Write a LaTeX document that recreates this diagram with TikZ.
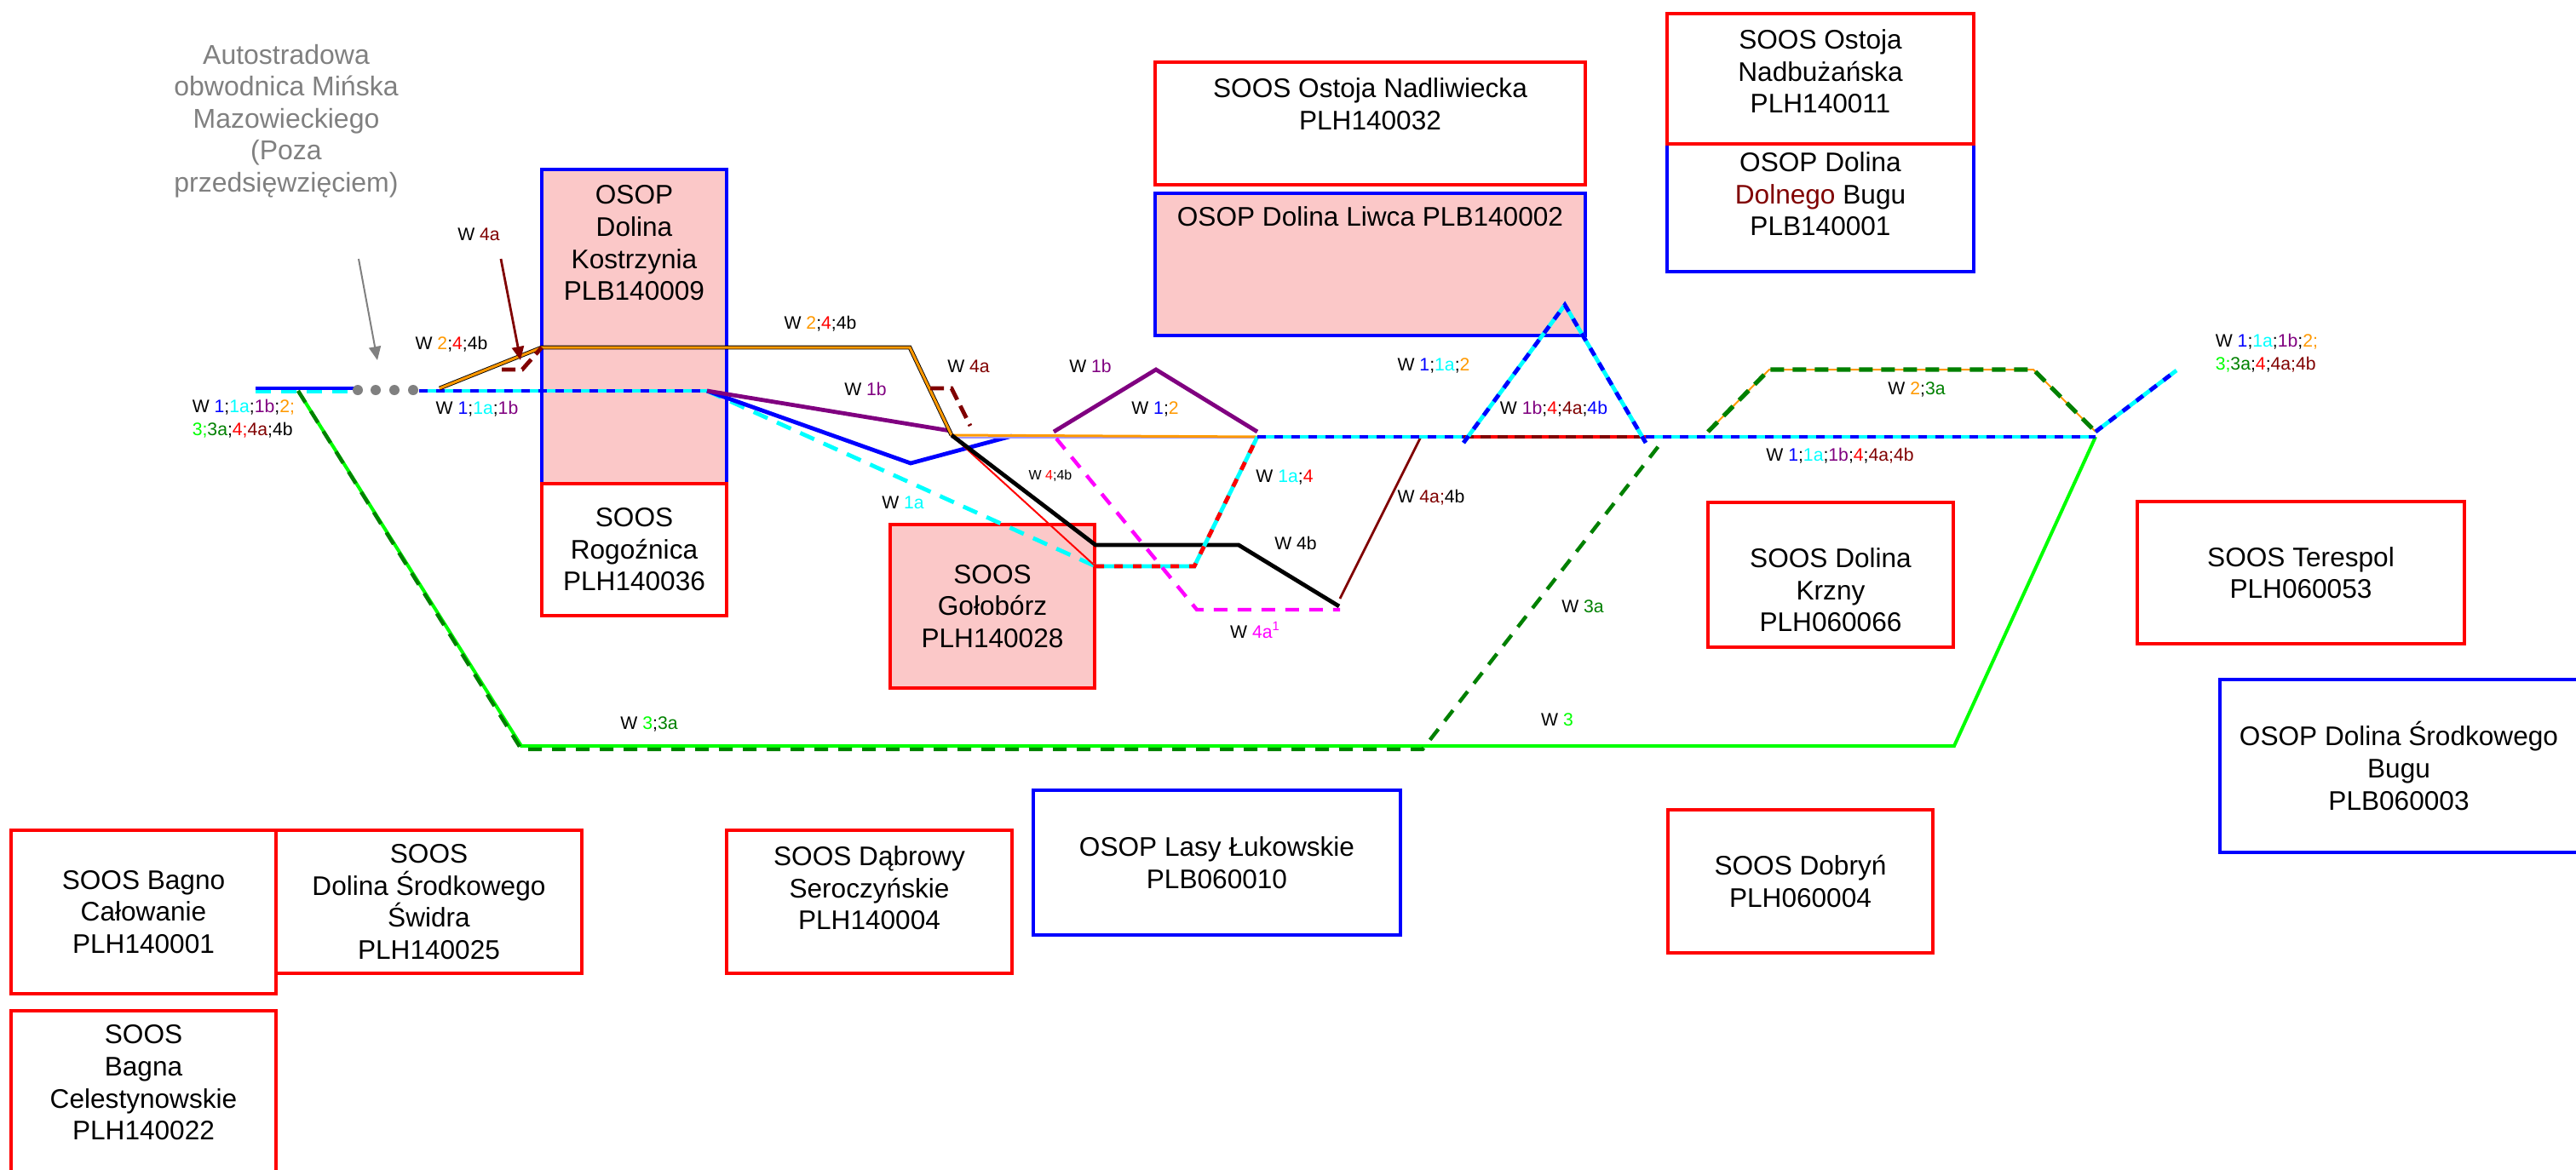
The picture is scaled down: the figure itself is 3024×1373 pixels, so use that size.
\documentclass[tikz,border=0pt]{standalone}
\usepackage{fontspec}
\setmainfont{Liberation Sans}
\usetikzlibrary{positioning,arrows.meta}
\definecolor{wblue}{RGB}{0,0,255}
\definecolor{wcyan}{RGB}{0,255,255}
\definecolor{wpurple}{RGB}{128,0,128}
\definecolor{worange}{RGB}{255,153,0}
\definecolor{wred}{RGB}{255,0,0}
\definecolor{wmaroon}{RGB}{128,0,0}
\definecolor{wgreen}{RGB}{0,255,0}
\definecolor{wdgreen}{RGB}{0,128,0}
\definecolor{wmag}{RGB}{255,0,255}
\definecolor{wlilac}{RGB}{160,150,255}
\definecolor{hatchpink}{RGB}{251,200,200}
\newcommand\kB[1]{\textcolor{wblue}{#1}}
\newcommand\kC[1]{\textcolor{wcyan}{#1}}
\newcommand\kP[1]{\textcolor{wpurple}{#1}}
\newcommand\kO[1]{\textcolor{worange}{#1}}
\newcommand\kR[1]{\textcolor{wred}{#1}}
\newcommand\kM[1]{\textcolor{wmaroon}{#1}}
\newcommand\kG[1]{\textcolor{wgreen}{#1}}
\newcommand\kD[1]{\textcolor{wdgreen}{#1}}
\newcommand\kV[1]{\textcolor{wmag}{#1}}

\begin{document}
\begin{tikzpicture}[x=0.25pt,y=-0.25pt,
every node/.style={inner sep=0pt,align=center},
box/.style={draw,line width=0.8pt,font=\fontsize{7.9}{9.4}\selectfont},
soos/.style={box,draw=wred},
osop/.style={box,draw=wblue},
pink/.style={fill=hatchpink},
txt/.style={font=\fontsize{7.9}{9.4}\selectfont,anchor=north},
wl/.style={font=\fontsize{5.3}{6.7}\selectfont},
dot/.style={circle,fill=gray,minimum size=3pt},
lnB/.style={wblue,line width=1.2pt},
lnC/.style={wcyan,line width=1.2pt,dash pattern=on 4.5pt off 3pt},
lnP/.style={wpurple,line width=1.2pt},
lnBC/.style={wcyan,line width=1.2pt,postaction={draw=wblue,dash pattern=on 2.5pt off 2.5pt}},
lnCR/.style={wcyan,line width=1.2pt,postaction={draw=wred,dash pattern=on 2.5pt off 3pt}},
lnRM/.style={wred,line width=1.2pt,postaction={draw=wmaroon,dash pattern=on 3pt off 2pt}},
lnOB/.style={black,line width=1.2pt,postaction={draw=worange,line width=0.75pt}},
lnR/.style={wred,line width=0.5pt},
lnK/.style={black,line width=1.2pt},
lnM/.style={wmaroon,line width=0.7pt},
lnMd/.style={wmaroon,line width=1.2pt,dash pattern=on 4pt off 2pt},
lnV/.style={wmag,line width=1.1pt,dash pattern=on 4pt off 3pt},
lnOG/.style={worange,line width=0.5pt,postaction={draw=wdgreen,line width=1.3pt,dash pattern=on 4pt off 2.5pt}},
lnG/.style={wgreen,line width=1pt},
lnD/.style={wdgreen,line width=1.1pt,dash pattern=on 4pt off 3pt},
arr/.style={-{Triangle[length=4pt,width=3.5pt]}}
]
\useasboundingbox (0,0) rectangle (3024,1373);

\node[osop,pink,minimum width=54.25pt,minimum height=92.25pt]at(744.5,383.5)(kos){};
\node[soos,minimum width=54.25pt,minimum height=38.75pt]at(744.5,645.5)(rog){SOOS\\Rogoźnica\\PLH140036};
\node[soos,pink,minimum width=60pt,minimum height=48pt]at(1165,712)(gol){SOOS\\Gołobórz\\PLH140028};
\node[soos,minimum width=126.25pt,minimum height=36pt]at(1608.5,145)(nadl){};
\node[osop,pink,minimum width=126.25pt,minimum height=41.75pt]at(1608.5,310.5)(liw){};
\node[osop,minimum width=90pt,minimum height=37.5pt]at(2137,244)(dbug){};
\node[soos,minimum width=90pt,minimum height=38.25pt]at(2137,92.5)(nadb){};
\node[soos,minimum width=72pt,minimum height=42.5pt]at(2149,675)(krz){};
\node[soos,minimum width=96pt,minimum height=41.75pt]at(2701,672.5)(ter){SOOS Terespol\\PLH060053};
\node[osop,minimum width=105pt,minimum height=50.75pt]at(2816,899.5)(sbug){OSOP Dolina Środkowego\\Bugu\\PLB060003};
\node[soos,minimum width=77.75pt,minimum height=48pt]at(168.5,1071)(bcal){SOOS Bagno\\Całowanie\\PLH140001};
\node[soos,minimum width=89.75pt,minimum height=42pt]at(503.5,1059)(swid){SOOS\\Dolina Środkowego\\Świdra\\PLH140025};
\node[soos,minimum width=77.75pt,minimum height=48.25pt]at(168.5,1283.5)(cel){};
\node[soos,minimum width=83.75pt,minimum height=42pt]at(1020.5,1059)(dab){};
\node[osop,minimum width=107.75pt,minimum height=42.5pt]at(1428.5,1013)(luk){OSOP Lasy Łukowskie\\PLB060010};
\node[soos,minimum width=77.75pt,minimum height=42pt]at(2113.5,1035)(dob){SOOS Dobryń\\PLH060004};

\node[txt]at(744.5,217)(kosT){OSOP\\Dolina\\Kostrzynia\\PLB140009};
\node[txt]at(1608.5,91)(nadlT){SOOS Ostoja Nadliwiecka\\PLH140032};
\node[txt]at(1608.5,242)(liwT){OSOP Dolina Liwca PLB140002};
\node[txt]at(2137,34)(nadbT){SOOS Ostoja\\Nadbużańska\\PLH140011};
\node[txt]at(2137,178)(dbugT){OSOP Dolina\\\kM{Dolnego} Bugu\\PLB140001};
\node[txt]at(168.5,1203)(celT){SOOS\\Bagna\\Celestynowskie\\PLH140022};
\node[txt]at(1020.5,993)(dabT){SOOS Dąbrowy\\Seroczyńskie\\PLH140004};
\node[txt,anchor=center]at(2149,693)(krzT){SOOS Dolina\\Krzny\\PLH060066};
\node[font=\fontsize{8}{9.4}\selectfont,text=gray]at(336,142)(obw){Autostradowa\\obwodnica Mińska\\Mazowieckiego\\(Poza\\przedsięwzięciem)};

\coordinate (w0) at (300,456); \coordinate (w1) at (419,456);
\coordinate (w2) at (300,460); \coordinate (w3) at (419,460);
\coordinate (v0) at (492,459); \coordinate (br) at (830,459);
\coordinate (o0) at (516,456); \coordinate (o1) at (636,408);
\coordinate (o2) at (1068,408); \coordinate (jn) at (1117,511);
\coordinate (pj) at (1116,506); \coordinate (lj) at (1117,514);
\coordinate (b1) at (1069,544); \coordinate (b2) at (1188,512);
\coordinate (c1) at (1286,665); \coordinate (c2) at (1402,665);
\coordinate (m1) at (1476,513); \coordinate (ml) at (1476,514);
\coordinate (m2) at (1718,513); \coordinate (m3) at (1932,513);
\coordinate (m4) at (2460,513);
\coordinate (l1) at (1718,520); \coordinate (tp) at (1837,358); \coordinate (l2) at (1932,520);
\coordinate (p1) at (1237,507); \coordinate (p2) at (1357,434); \coordinate (p3) at (1476,507);
\coordinate (k1) at (1286,640); \coordinate (k2) at (1454,640); \coordinate (k3) at (1572,712);
\coordinate (r1) at (1573,703); \coordinate (r2) at (1668,513);
\coordinate (g1) at (1240,515); \coordinate (g2) at (1405,716); \coordinate (g3) at (1573,716);
\coordinate (z0) at (350,459); \coordinate (z1) at (612,876); \coordinate (z2) at (1670,876);
\coordinate (z3) at (2294,876); \coordinate (z4) at (1950,520);
\coordinate (y1) at (612,880); \coordinate (y2) at (1670,880);
\coordinate (t1) at (2005,507); \coordinate (t2) at (2077,434);
\coordinate (t3) at (2387,434); \coordinate (t4) at (2460,507);
\coordinate (e1) at (2555,435);
\coordinate (q1) at (589,434); \coordinate (q2) at (613,434); \coordinate (q3) at (636,408);
\coordinate (q4) at (1092,456); \coordinate (q5) at (1117,456); \coordinate (q6) at (1139,500);
\coordinate (a0) at (421,304); \coordinate (a1) at (443,423);
\coordinate (a2) at (588,304); \coordinate (a3) at (611,423);

\draw[lnG] (z0)--(z1)--(z3)--(m4);
\draw[lnD] (z0)--(y1)--(y2)--(z4);
\draw[lnB] (w0)--(w1);
\draw[lnC] (w2)--(w3);
\foreach \x [count=\i] in {420,441,463,485} \node[dot]at(\x,458)(d\i){};
\draw[lnBC] (v0)--(br);
\draw[lnC] (br)--(c1);
\draw[lnB] (br)--(b1)--(b2);
\draw[lnP] (br)--(pj);
\draw[wlilac,line width=0.6pt] (lj)--(ml);
\draw[worange,line width=0.75pt] (jn)--(m1);
\draw[lnOB] (o0)--(o1)--(o2)--(jn);
\draw[lnR] (jn)--(c1);
\draw[lnK] (jn)--(k1)--(k2)--(k3);
\draw[lnCR] (c1)--(c2)--(m1);
\draw[lnV] (g1)--(g2)--(g3);
\draw[lnM] (r1)--(r2);
\draw[lnP] (p1)--(p2)--(p3);
\draw[lnBC] (m1)--(m2);
\draw[lnRM] (m2)--(m3);
\draw[lnBC] (m3)--(m4);
\draw[lnBC] (l1)--(tp)--(l2);
\draw[lnOG] (t1)--(t2)--(t3)--(t4);
\draw[lnBC] (t4)--(e1);
\draw[lnMd] (q1)--(q2)--(q3);
\draw[lnMd] (q4)--(q5)--(q6);
\draw[arr,gray,line width=0.5pt] (a0)--(a1);
\draw[arr,wmaroon,line width=0.7pt] (a2)--(a3);

\node[wl,align=left,anchor=west]at(225,492)(lA){W \kB{1};\kC{1a};\kP{1b};\kO{2;}\\\kG{3;}\kD{3a};\kR{4;}\kM{4a};4b};
\node[wl]at(530,404)(lB){W \kO{2};\kR{4};4b};
\node[wl]at(562,275)(lC){W \kM{4a}};
\node[wl]at(560,480)(lD){W \kB{1};\kC{1a};\kP{1b}};
\node[wl]at(963,380)(lE){W \kO{2};\kR{4};4b};
\node[wl]at(1016,457)(lF){W \kP{1b}};
\node[wl]at(1137,430)(lG){W \kM{4a}};
\node[wl]at(1280,430)(lH){W \kP{1b}};
\node[wl]at(1356,480)(lI){W \kB{1};\kO{2}};
\node[wl]at(1060,590)(lJ){W \kC{1a}};
\node[font=\fontsize{4}{5}\selectfont]at(1233,559)(lK){W \kR{4};4b};
\node[wl]at(1508,561)(lL){W \kC{1a};\kR{4}};
\node[wl]at(1521,638)(lM){W 4b};
\node[wl]at(1680,584)(lN){W \kM{4a;}4b};
\node[wl]at(1474,740)(lO){W \kV{4a\textsuperscript{1}}};
\node[wl]at(1683,429)(lP){W \kB{1};\kC{1a};\kO{2}};
\node[wl]at(1824,480)(lQ){W \kP{1b};\kR{4};\kM{4a};\kB{4b}};
\node[wl]at(2250,457)(lR){W \kO{2};\kD{3a}};
\node[wl]at(2160,535)(lS){W \kB{1};\kC{1a};\kP{1b};\kR{4};\kM{4a;4b}};
\node[wl,align=left,anchor=west]at(2600,415)(lT){W \kB{1};\kC{1a};\kP{1b};\kO{2;}\\\kG{3;}\kD{3a};\kR{4};\kM{4a;4b}};
\node[wl]at(1858,712)(lU){W \kD{3a}};
\node[wl]at(1828,845)(lV){W \kG{3}};
\node[wl]at(762,850)(lW){W \kG{3};\kD{3a}};
\end{tikzpicture}
\end{document}
